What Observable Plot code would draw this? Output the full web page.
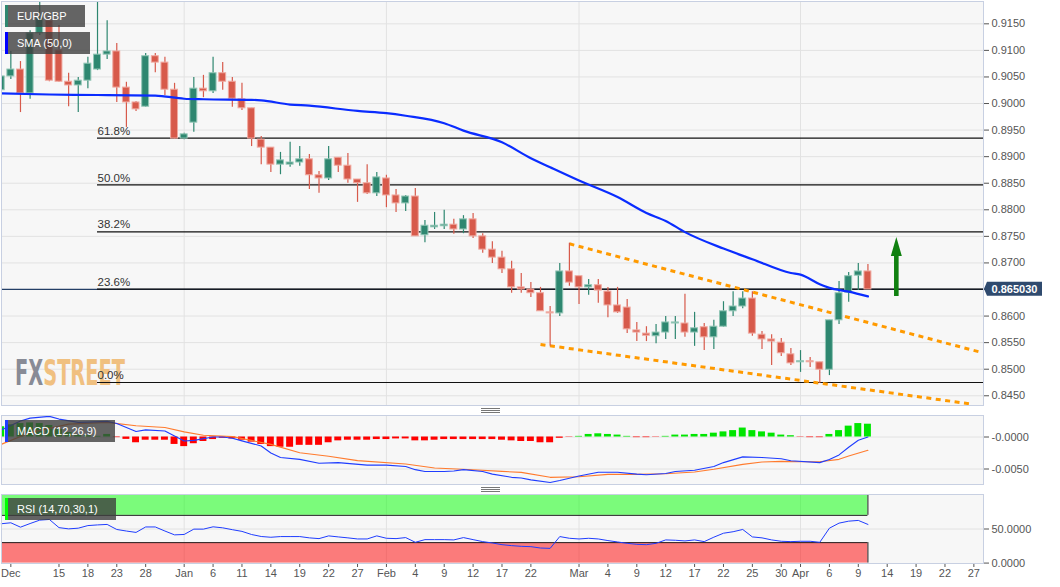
<!DOCTYPE html>
<html>
<head>
<meta charset="utf-8">
<script src="https://cdn.jsdelivr.net/npm/d3@7"></script>
<script src="https://cdn.jsdelivr.net/npm/@observablehq/plot@0.6"></script>
<style>
  html, body { margin: 0; padding: 0; background: #fff; }
  #chart { position: relative; width: 1060px; height: 587px; overflow: hidden; font-family: "Liberation Sans", Arial, sans-serif; }
  .legend { position: absolute; left: 5px; height: 22px; line-height: 22px; background: rgba(62,62,62,0.8); color: #fff; font-size: 11px; padding-left: 12px; box-sizing: border-box; white-space: nowrap; }
  .legend .sw { position: absolute; left: 0; top: 0; width: 3px; height: 22px; }
  .grip { position: absolute; width: 19px; height: 3px; border-top: 1px solid #777; border-bottom: 1px solid #777; }
  .grip::after { content: ""; position: absolute; left: 0; right: 0; top: 1px; border-top: 1px solid #777; }
</style>
</head>
<body>
<div id="chart"></div>
<script>
// ---- data (x = trading-day index, 0 = Dec 15) ----
const candleStart = -6; // first candle (Dec 7)
const opens = [.9025,.9051,.9064,.9019,.9132,.9156,
  .9100,.9041,.9034,.9043,.9064,.9092,.9098,.9030,.9002,.8994,
  .9089,.9077,.9026,.8934,.8964,.9028,.9023,.9057,.9041,.9008,
  .8991,.8932,.8917,.8885,.8885,.8889,.8895,.8865,.8859,.8898,
  .8883,.8857,.8850,.8831,.8859,.8827,.8812,.8825,.8752,.8767,
  .8769,.8772,.8763,.8782,.8750,.8725,.8710,.8688,.8654,.8650,
  .8643,.8607,.8605,.8684,.8675,.8654,.8658,.8646,.8620,.8616,
  .8573,.8567,.8562,.8569,.8586,.8586,.8569,.8579,.8560,.8580,
  .8609,.8618,.8633,.8565,.8556,.8550,.8528,.8513,.8515,.8513,
  .8499,.8592,.8644,.8676,.8684];
const highs = [.9109,.9098,.9079,.9137,.9200,.9162,
  .9147,.9057,.9049,.9087,.9219,.9156,.9113,.9040,.9004,.9094,
  .9094,.9087,.9038,.8944,.9049,.9053,.9087,.9077,.9049,.9038,
  .8991,.8938,.8917,.8908,.8927,.8919,.8904,.8872,.8919,.8898,
  .8906,.8857,.8885,.8870,.8865,.8838,.8827,.8840,.8780,.8795,
  .8799,.8782,.8789,.8793,.8755,.8740,.8722,.8703,.8680,.8663,
  .8654,.8618,.8699,.8737,.8675,.8669,.8669,.8654,.8654,.8631,
  .8588,.8580,.8584,.8599,.8599,.8641,.8607,.8586,.8592,.8627,
  .8646,.8646,.8646,.8571,.8565,.8558,.8539,.8535,.8522,.8513,
  .8592,.8665,.8682,.8699,.8697];
const lows = [.9021,.9045,.8983,.9008,.9128,.9041,
  .9040,.8994,.8983,.9028,.9062,.9083,.9002,.8955,.8985,.8993,
  .9058,.9015,.8933,.8932,.8946,.9011,.9019,.9025,.8993,.8987,
  .8919,.8885,.8870,.8866,.8880,.8882,.8838,.8831,.8855,.8870,
  .8850,.8814,.8829,.8825,.8804,.8795,.8797,.8750,.8738,.8763,
  .8763,.8754,.8755,.8746,.8718,.8699,.8680,.8643,.8643,.8635,
  .8609,.8543,.8599,.8656,.8622,.8639,.8624,.8597,.8605,.8567,
  .8552,.8552,.8548,.8556,.8556,.8560,.8543,.8535,.8537,.8579,
  .8599,.8614,.8562,.8537,.8507,.8524,.8507,.8494,.8503,.8473,
  .8488,.8584,.8626,.8648,.8650];
const closes = [.9051,.9064,.9019,.9132,.9160,.9043,
  .9041,.9034,.9043,.9075,.9092,.9098,.9030,.9002,.8989,.9089,
  .9077,.9026,.8934,.8942,.9028,.9023,.9057,.9041,.9009,.8991,
  .8934,.8917,.8885,.8893,.8889,.8895,.8865,.8859,.8895,.8883,
  .8857,.8850,.8831,.8861,.8827,.8812,.8825,.8750,.8770,.8770,
  .8772,.8763,.8782,.8750,.8725,.8710,.8688,.8654,.8650,.8643,
  .8609,.8605,.8684,.8663,.8654,.8658,.8648,.8620,.8607,.8575,
  .8569,.8563,.8569,.8588,.8588,.8569,.8577,.8560,.8580,.8609,
  .8618,.8633,.8567,.8556,.8552,.8530,.8511,.8515,.8513,.8499,
  .8592,.8643,.8675,.8684,.8650];

const smaPoints = [[-6,.9019],[-1,.9017],[4,.9016],[10,.9015],[13,.9009],[15,.9008],[20,.9007],[21,.9006],
  [24,.8998],[26,.8996],[31,.8986],[34,.8982],[36,.8977],[40,.8963],[42,.8949],[46,.8927],[49,.8897],
  [51,.8880],[54,.8855],[58,.8824],[61,.8794],[63,.8779],[65,.8758],[69,.8727],[72,.8707],[76,.8681],
  [77,.8678],[79,.8660],[80,.8653],[82,.8646],[84,.8637]];

const fibLevels = [0.89349, 0.88470, 0.87586, 0.86506, 0.84750];
const fibLabels = ["61.8%", "50.0%", "38.2%", "23.6%", "0.0%"];
const fibStartIdx = 4;

const trendUpper = [[53, 0.8736], [95.7, 0.8532]];
const trendLower = [[50, 0.85465], [94.7, 0.84345]];

const currentPrice = 0.86503;
const currentLabel = "0.865030";

const arrowIdx = 87, arrowFrom = 0.8637, arrowTo = 0.8748;

const macdLine = [[-6,.0011],[-4,.0025],[-3,.00295],[-1,.00322],[0,.0028],[2,.00228],[3,.00233],[5,.00244],
  [6,.00211],[7,.00149],[8,.00085],[9,.00111],[11,.00095],[12,.00017],[13,-.00062],[14,-.00052],[16,0],[17,0],
  [18,-.0002],[19,-.0006],[21,-.0014],[22,-.0025],[23,-.0032],[25,-.0035],[27,-.0041],[29,-.0040],[32,-.0044],
  [34,-.0044],[36,-.0046],[37,-.0051],[38,-.0054],[40,-.0054],[41,-.0053],[42,-.0051],[44,-.0054],[45,-.0058],
  [47,-.0063],[48,-.0064],[49,-.0067],[51,-.0071],[52,-.0068],[54,-.0061],[56,-.0055],[58,-.0055],[60,-.0058],
  [61,-.0059],[63,-.0057],[64,-.0054],[66,-.0052],[68,-.0046],[69,-.0040],[71,-.0031],[73,-.0032],[75,-.0034],
  [76,-.0037],[79,-.0040],[80,-.0035],[81,-.0028],[82,-.0016],[83,-.0005],[84,0]];
const signalLine = [[-6,-.00115],[-3,.00069],[1,.00201],[5,.00228],[8,.00175],[11,.00149],[13,.0008],[15,.00027],
  [18,.00006],[22,-.00115],[25,-.00247],[28,-.0030],[31,-.00369],[36,-.00421],[39,-.00484],[43,-.00511],
  [46,-.00537],[48,-.00552],[51,-.0063],[54,-.0062],[57,-.00584],[60,-.00584],[63,-.00573],[66,-.00547],
  [68,-.00505],[71,-.00427],[73,-.00391],[75,-.0038],[77,-.00386],[79,-.00386],[81,-.00349],[82,-.00297],[84,-.00208]];
const macdHist = [.0016,.0019,.0021,.0022,.0021,.0018,
  .0012,.0007,.0003,.0002,.0001,.0004,-.0001,-.00037,-.0009,-.0005,
  -.0005,-.0005,-.00116,-.0015,-.00105,-.0007,-.0004,-.0002,-.0003,-.0005,
  -.0008,-.00116,-.0015,-.0016,-.0016,-.0013,-.0013,-.0013,-.0009,-.0006,
  -.0005,-.0005,-.0005,-.0004,-.0004,-.0003,-.0003,-.0006,-.0006,-.0005,
  -.0004,-.0004,-.0004,-.0004,-.0004,-.0004,-.0005,-.0006,-.0007,-.0007,
  -.0009,-.0009,-.0002,-.00005,.0001,.0004,.0005,.0004,.0003,.0001,
  -.0001,-.0001,-.00005,.0001,.0003,.0003,.0004,.0004,.0006,.0008,
  .0010,.0014,.0010,.0008,.0006,.0003,.0002,-.00005,-.0001,-.0001,
  .0004,.0010,.0017,.0021,.0020];
const rsiValues = [57.7,59.1,52.7,58,63,64,
  52,50.2,51.2,55,56,56.7,49.3,47,45,53,
  53,47,41.4,42,49.8,49.8,53.2,51.7,49,46.5,
  41.9,39,37.9,38.9,38.9,38.9,37,35.9,39.9,38.4,
  37,35.4,35.4,39.9,36.4,35.9,37.4,30.5,34.4,34.4,
  34.4,34,37.4,34.4,31.5,29.5,27,25.6,24.6,24.1,
  22.1,21.6,38.9,36.4,35.4,36.4,35.4,33,31,29,
  27.5,27,29,34,33.5,32.5,34,31.5,38,43.8,
  46,49.3,38.4,37,34,32,31.5,32,32,30.5,
  51.2,58.6,61.5,62.6,56.7];

const priceTicks = [0.845,0.850,0.855,0.860,0.865,0.870,0.875,0.880,0.885,0.890,0.895,0.900,0.905,0.910,0.915];
const macdTicks = [0, -0.005];
const macdTickLabels = ["-0.0000", "-0.0050"];
const rsiTicks = [0, 50];
const rsiTickLabels = ["0.0000", "50.0000"];
const rsiOverbought = 70, rsiOversold = 30;
const xTickIdx = [-5,0,3,6,9,13,16,19,22,25,28,31,34,37,40,43,46,49,54,57,60,63,66,69,72,75,77,80,83,86,89,92,95];
const xTickLabels = ["Dec","15","18","23","28","Jan","6","11","14","19","22","27","Feb","4","9","12","17","22","Mar","4","9","12","17","22","25","30","Apr","6","9","14","19","22","27"];
const monthIdx = [13, 34, 54, 77];

// ---- derived tables ----
const candles = opens.map((o, k) => ({i: candleStart + k, open: o, high: highs[k], low: lows[k], close: closes[k]}));
const hist = macdHist.map((v, k) => ({i: candleStart + k, v}));
const rsi = rsiValues.map((v, k) => ({i: candleStart + k, v}));
const lastIdx = candleStart + closes.length - 1;

const xDomain = [-5.97, 96.0];
const UP = "#2e8770", DN = "#d75a4b", UPL = "#93c6b6", DNL = "#f0aaa1";
const GRID = "#e2e2e2", BORDER = "#c8d0e2", BG = "#f7f7f7";
const font = "'Liberation Sans', Arial, sans-serif";
const baseStyle = {background: "transparent", fontFamily: font, fontSize: "11px", color: "#555"};
const half = 0.36;

function watermark(index, scales, values, dims) {
  const g = d3.create("svg:g")
    .attr("transform", `translate(${dims.marginLeft + 14},${dims.height - dims.marginBottom - 20})`);
  const t = g.append("text").attr("class", "fx-wm").attr("x", 0).attr("y", 0)
    .attr("text-anchor", "start")
    .attr("font-family", "'Liberation Sans Narrow', 'DejaVu Sans Condensed', 'Liberation Sans', sans-serif")
    .attr("font-weight", "bold").attr("font-size", 35);
  t.append("tspan").attr("fill", "#888b96").text("FX");
  t.append("tspan").attr("fill", "#f0c080").text("STREET");
  return g.node();
}
function arrowMark(index, scales) {
  const x = scales.x(arrowIdx), yb = scales.y(arrowFrom), yt = scales.y(arrowTo);
  const hh = 19, hw = 5.5, sw = 2.3;
  return d3.create("svg:path")
    .attr("d", `M${x - sw},${yb}V${yt + hh}H${x - hw}L${x},${yt}L${x + hw},${yt + hh}H${x + sw}V${yb}Z`)
    .attr("fill", "#108010").node();
}
function priceTag(index, scales, values, dims) {
  const y = scales.y(currentPrice);
  const x0 = dims.width - dims.marginRight;
  const g = d3.create("svg:g");
  g.append("path").attr("d", `M${x0 + 1},${y}L${x0 + 4},${y - 7}H${x0 + 59}V${y + 7}H${x0 + 4}Z`).attr("fill", "#2f4a6e");
  g.append("text").attr("x", x0 + 31.5).attr("y", y).attr("dy", "0.35em").attr("text-anchor", "middle")
    .attr("fill", "#fff").attr("font-weight", "bold").attr("font-size", 11).attr("font-family", font).text(currentLabel);
  return g.node();
}

const main = Plot.plot({
  width: 1060, height: 407, marginLeft: 1, marginRight: 77, marginTop: 1, marginBottom: 2,
  x: {domain: xDomain, axis: null},
  y: {domain: [0.84317, 0.91920], axis: "right", ticks: priceTicks, tickFormat: d3.format(".4f"), tickSize: 5, tickPadding: 3, label: null},
  color: {type: "identity"},
  style: baseStyle,
  marks: [
    Plot.frame({fill: BG, stroke: "none"}),
    Plot.ruleY(priceTicks, {stroke: GRID}),
    Plot.ruleX(monthIdx, {stroke: GRID}),
    watermark,
    Plot.ruleY([currentPrice], {stroke: "#243f66", strokeWidth: 1.3}),
    Plot.ruleY(fibLevels, {x1: fibStartIdx, x2: xDomain[1], stroke: "#111", strokeWidth: 1.2}),
    Plot.text(fibLevels, {x: fibStartIdx, y: d => d, text: (d, k) => fibLabels[k], dy: -7, textAnchor: "start", fontSize: 11.5, fill: "#333"}),
    Plot.line(trendUpper, {x: d => d[0], y: d => d[1], stroke: "#ff9a00", strokeWidth: 3, strokeDasharray: "5,4.5", strokeLinecap: "butt"}),
    Plot.line(trendLower, {x: d => d[0], y: d => d[1], stroke: "#ff9a00", strokeWidth: 3, strokeDasharray: "5,4.5", strokeLinecap: "butt", clip: true}),
    Plot.ruleX(candles, {x: "i", y1: "low", y2: "high", stroke: d => d.close >= d.open ? UP : DN, strokeWidth: 1.2, clip: true}),
    Plot.rect(candles, {x1: d => d.i - half, x2: d => d.i + half, y1: "open", y2: "close",
      fill: d => d.close >= d.open ? UP : DN, stroke: d => d.close >= d.open ? UPL : DNL, strokeWidth: 1, clip: true}),
    Plot.line(smaPoints, {x: d => d[0], y: d => d[1], stroke: "#0a2cff", strokeWidth: 2.2, curve: "monotone-x", clip: true}),
    arrowMark,
    priceTag,
    Plot.frame({stroke: BORDER})
  ]
});

const macdPlot = Plot.plot({
  width: 1060, height: 71, marginLeft: 1, marginRight: 77, marginTop: 1, marginBottom: 1,
  x: {domain: xDomain, axis: null},
  y: {domain: [-0.00742, 0.00336], axis: "right", ticks: macdTicks, tickFormat: d => macdTickLabels[macdTicks.indexOf(d)], tickSize: 5, tickPadding: 3, label: null},
  color: {type: "identity"},
  style: baseStyle,
  marks: [
    Plot.frame({fill: BG, stroke: "none"}),
    Plot.ruleY(macdTicks, {stroke: GRID}),
    Plot.ruleX(monthIdx, {stroke: GRID}),
    Plot.rect(hist, {x1: d => d.i - half, x2: d => d.i + half, y1: 0, y2: "v", fill: d => d.v >= 0 ? "#00e600" : "#ff0000", clip: true}),
    Plot.line(signalLine, {x: d => d[0], y: d => d[1], stroke: "#ff7b2e", strokeWidth: 1.1, clip: true}),
    Plot.line(macdLine, {x: d => d[0], y: d => d[1], stroke: "#1f3dff", strokeWidth: 1.1, clip: true}),
    Plot.frame({stroke: BORDER})
  ]
});

const rsiPlot = Plot.plot({
  width: 1060, height: 94, marginLeft: 1, marginRight: 77, marginTop: 1, marginBottom: 24,
  x: {domain: xDomain, axis: "bottom", ticks: xTickIdx, tickFormat: d => xTickLabels[xTickIdx.indexOf(d)], tickSize: 4, tickPadding: 2, label: null},
  y: {domain: [-0.6, 100.6], axis: "right", ticks: rsiTicks, tickFormat: d => rsiTickLabels[rsiTicks.indexOf(d)], tickSize: 5, tickPadding: 3, label: null},
  color: {type: "identity"},
  style: baseStyle,
  marks: [
    Plot.frame({fill: BG, stroke: "none"}),
    Plot.ruleY([50], {stroke: GRID}),
    Plot.ruleX(monthIdx, {stroke: GRID}),
    Plot.rect([0], {x1: xDomain[0], x2: lastIdx, y1: rsiOverbought, y2: 100, fill: "#00ff00", fillOpacity: 0.5}),
    Plot.rect([0], {x1: xDomain[0], x2: lastIdx, y1: 0, y2: rsiOversold, fill: "#ff0000", fillOpacity: 0.5}),
    Plot.ruleY([rsiOverbought, rsiOversold], {x1: xDomain[0], x2: lastIdx, stroke: "#222"}),
    Plot.ruleX([lastIdx], {y1: rsiOverbought, y2: 100, stroke: "#222"}),
    Plot.ruleX([lastIdx], {y1: 0, y2: rsiOversold, stroke: "#222"}),
    Plot.line(rsi, {x: "i", y: "v", stroke: "#1f3dff", strokeWidth: 1}),
    Plot.frame({stroke: BORDER})
  ]
});

const root = document.getElementById("chart");
function place(node, top) {
  node.style.position = "absolute"; node.style.left = "0px"; node.style.top = top + "px";
  root.appendChild(node);
}
place(main, 0); place(macdPlot, 414); place(rsiPlot, 493);

// fit the watermark to its original width (about 110px)
const wm = main.querySelector(".fx-wm");
if (wm) {
  const w = wm.getComputedTextLength();
  if (w > 0) wm.setAttribute("transform", `scale(${110 / w},1)`);
}

function legend(text, color, top, width) {
  const d = document.createElement("div");
  d.className = "legend"; d.style.top = top + "px"; d.style.width = width + "px";
  const s = document.createElement("span"); s.className = "sw"; s.style.background = color;
  d.appendChild(s); d.appendChild(document.createTextNode(text));
  root.appendChild(d);
}
legend("EUR/GBP", UP, 5, 80);
legend("SMA (50,0)", "#0000ff", 32, 85);
legend("MACD (12,26,9)", "#1f3dff", 420, 110);
legend("RSI (14,70,30,1)", "#00ff00", 498, 111);

function grip(top) {
  const g = document.createElement("div"); g.className = "grip";
  g.style.left = "481px"; g.style.top = top + "px"; root.appendChild(g);
}
grip(408); grip(487);
</script>
</body>
</html>
